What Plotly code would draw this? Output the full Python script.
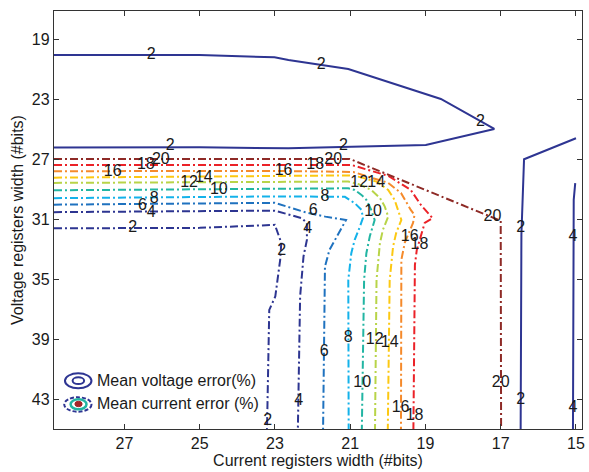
import plotly.graph_objects as go

# ---------------- data ----------------
# Axis ticks
x_ticks = [27, 25, 23, 21, 19, 17, 15]
y_ticks = [19, 23, 27, 31, 35, 39, 43]

# Mean voltage error contours (solid), level 2 has two pieces, level 4 one
volt2a_x = [28.87, 25.0, 23.01, 22.64, 21.05, 18.59, 17.17, 18.99, 22.64, 25.0, 28.87]
volt2a_y = [20.05, 20.05, 20.2, 20.38, 20.98, 22.98, 24.98, 26.05, 26.27, 26.2, 26.21]
volt2b_x = [15.0, 16.38, 16.45, 16.47]
volt2b_y = [25.6, 27.0, 32.0, 45.0]
volt4_x = [15.02, 15.06, 15.08]
volt4_y = [28.6, 29.71, 45.0]

# Mean current error contours (dash-dot), levels 2..20
cur2_x = [28.87, 25.0, 23.0, 22.83, 22.86, 22.99, 23.15, 23.21]
cur2_y = [31.61, 31.58, 31.38, 32.58, 33.71, 36.16, 37.05, 45.0]
cur4_x = [28.87, 23.0, 22.29, 22.15, 22.15, 22.24, 22.33, 22.39]
cur4_y = [30.53, 30.43, 30.93, 31.25, 32.38, 33.49, 36.16, 45.0]
cur6_x = [28.87, 23.0, 22.19, 21.66, 21.11, 21.37, 21.55, 21.67, 21.72]
cur6_y = [30.03, 29.91, 30.54, 30.83, 31.05, 32.25, 33.05, 34.16, 45.0]
cur8_x = [28.87, 23.0, 21.14, 20.88, 20.7, 20.66, 20.74, 20.88, 20.97, 21.05, 21.04]
cur8_y = [29.6, 29.48, 29.51, 29.93, 30.38, 30.91, 31.49, 32.38, 33.27, 35.05, 45.0]
cur10_x = [28.87, 23.0, 21.05, 20.88, 20.7, 20.57, 20.44, 20.35, 20.48, 20.57, 20.63, 20.69]
cur10_y = [29.07, 28.95, 28.94, 29.05, 29.38, 29.71, 30.38, 31.05, 32.16, 33.27, 35.05, 45.0]
cur12_x = [28.87, 23.0, 21.05, 20.79, 20.44, 20.21, 20.08, 19.99, 20.13, 20.21, 20.3, 20.34]
cur12_y = [28.58, 28.51, 28.49, 28.65, 29.05, 29.58, 30.16, 30.83, 31.71, 32.6, 35.05, 45.0]
cur14_x = [28.87, 23.0, 21.05, 20.79, 20.3, 19.99, 19.82, 19.64, 19.78, 19.86, 19.95, 20.0]
cur14_y = [28.23, 28.11, 28.08, 28.16, 28.49, 29.05, 29.71, 31.05, 31.94, 32.83, 35.05, 45.0]
cur16_x = [28.87, 23.0, 20.92, 19.99, 19.65, 19.39, 19.29, 19.33, 19.55, 19.64, 19.65]
cur16_y = [27.8, 27.78, 27.85, 28.58, 29.25, 30.38, 30.71, 31.25, 32.58, 33.71, 45.0]
cur18_x = [28.87, 23.0, 20.97, 19.99, 19.39, 19.12, 18.81, 19.02, 19.12, 19.23, 19.28, 19.32]
cur18_y = [27.38, 27.38, 27.38, 28.11, 29.05, 30.05, 30.93, 31.25, 32.11, 33.05, 34.05, 45.0]
cur20_x = [28.87, 23.0, 21.01, 17.0, 16.99]
cur20_y = [26.98, 26.98, 26.98, 31.11, 45.0]

# Inline contour labels
label_text = ["2", "2", "2", "2", "2", "2", "2", "4", "4",
              "20", "18", "16", "12", "14", "10", "8", "6", "4", "2",
              "16", "18", "20", "12", "14", "8", "6", "10", "4", "2",
              "16", "18", "20", "6", "8", "12", "14", "10", "20", "4",
              "16", "18", "2"]
label_x = [26.29, 21.77, 17.54, 25.78, 21.18, 16.47, 16.47, 15.08, 15.08,
           26.03, 26.43, 27.31, 25.28, 24.89, 24.49, 26.21, 26.52, 26.29, 26.78,
           22.77, 21.93, 21.45, 20.76, 20.31, 21.67, 21.98, 20.39, 22.13, 22.82,
           19.42, 19.16, 17.22, 21.69, 21.05, 20.35, 19.95, 20.68, 17.0, 22.37,
           19.66, 19.29, 23.19]
label_y = [20.05, 20.71, 24.51, 26.15, 26.11, 31.58, 43.09, 32.18, 43.6,
           27.05, 27.38, 27.83, 28.6, 28.27, 29.05, 29.65, 30.09, 30.6, 31.6,
           27.78, 27.38, 27.05, 28.6, 28.6, 29.53, 30.45, 30.49, 31.67, 33.09,
           32.16, 32.71, 30.83, 39.83, 38.93, 39.05, 39.27, 41.93, 41.93, 43.16,
           43.6, 44.16, 44.49]

# ---------------- styling ----------------
FONT = "Liberation Sans, Arial, Helvetica, sans-serif"
NAVY = "#2e3592"
DASHDOT = "8px,3px,2px,3px"
level_colors = {
    2: "#2d3591", 4: "#2d3591", 6: "#1f72bf", 8: "#14b2ea", 10: "#22b5a3",
    12: "#b8d448", 14: "#fcc812", 16: "#f58a2b", 18: "#eb2228", 20: "#8e2a26",
}

W, H = 589, 472
ML, MR, MT, MB = 54, 4, 11, 43

fig = go.Figure()

for xs, ys in [(volt2a_x, volt2a_y), (volt2b_x, volt2b_y), (volt4_x, volt4_y)]:
    fig.add_trace(go.Scatter(x=xs, y=ys, mode="lines",
                             line=dict(color=NAVY, width=2),
                             showlegend=False, hoverinfo="skip"))

current_levels = [
    (2, cur2_x, cur2_y), (4, cur4_x, cur4_y), (6, cur6_x, cur6_y),
    (8, cur8_x, cur8_y), (10, cur10_x, cur10_y), (12, cur12_x, cur12_y),
    (14, cur14_x, cur14_y), (16, cur16_x, cur16_y), (18, cur18_x, cur18_y),
    (20, cur20_x, cur20_y),
]
for lvl, xs, ys in current_levels:
    fig.add_trace(go.Scatter(x=xs, y=ys, mode="lines",
                             line=dict(color=level_colors[lvl], width=2, dash=DASHDOT),
                             showlegend=False, hoverinfo="skip"))

fig.add_trace(go.Scatter(x=label_x, y=label_y, text=label_text, mode="text",
                         textfont=dict(family=FONT, size=16, color="#1a1a1a"),
                         showlegend=False, hoverinfo="skip"))

# ---------------- legend drawn as ellipse icons ----------------
pw, ph = W - ML - MR, H - MT - MB


def px(xp):
    return (xp - ML) / pw


def py(yp):
    return (H - MB - yp) / ph


shapes = [
    dict(type="circle", xref="paper", yref="paper",
         x0=px(65), x1=px(91.7), y0=py(388.3), y1=py(373.3),
         line=dict(color=NAVY, width=2)),
    dict(type="circle", xref="paper", yref="paper",
         x0=px(72.7), x1=px(84.3), y0=py(384), y1=py(377.3),
         line=dict(color=NAVY, width=2)),
    dict(type="circle", xref="paper", yref="paper",
         x0=px(64.3), x1=px(91.7), y0=py(411.7), y1=py(397.3),
         line=dict(color=NAVY, width=2, dash="4px,2px")),
    dict(type="circle", xref="paper", yref="paper",
         x0=px(70.7), x1=px(86.7), y0=py(409.3), y1=py(399.3),
         line=dict(color="#22b5a3", width=2.5)),
    dict(type="circle", xref="paper", yref="paper",
         x0=px(75), x1=px(82.3), y0=py(406.7), y1=py(401.3),
         fillcolor="#a3262a", line=dict(color="#a3262a", width=1)),
]

annotations = [
    dict(text="Mean voltage error(%)", xref="paper", yref="paper",
         x=px(95), y=py(380.7), xanchor="left", yanchor="middle", showarrow=False,
         font=dict(family=FONT, size=16, color="#1a1a1a")),
    dict(text="Mean current error (%)", xref="paper", yref="paper",
         x=px(95), y=py(403.3), xanchor="left", yanchor="middle", showarrow=False,
         font=dict(family=FONT, size=16, color="#1a1a1a")),
]

axis_common = dict(showline=True, linecolor="#333333", linewidth=1.3, mirror="ticks",
                   ticks="inside", ticklen=5, tickwidth=1, tickcolor="#333333",
                   showgrid=False, zeroline=False,
                   tickfont=dict(family=FONT, size=16, color="#1a1a1a"))

fig.update_layout(
    width=W, height=H,
    margin=dict(l=ML, r=MR, t=MT, b=MB),
    paper_bgcolor="white", plot_bgcolor="white",
    shapes=shapes, annotations=annotations,
    xaxis=dict(range=[28.87, 14.84], tickvals=x_ticks,
               title=dict(text="Current registers width (#bits)", standoff=2,
                          font=dict(family=FONT, size=16, color="#1a1a1a")),
               **axis_common),
    yaxis=dict(range=[45.0, 17.11], tickvals=y_ticks,
               title=dict(text="Voltage registers width (#bits)", standoff=4,
                          font=dict(family=FONT, size=16, color="#1a1a1a")),
               **axis_common),
)

fig.write_html("out.html")
